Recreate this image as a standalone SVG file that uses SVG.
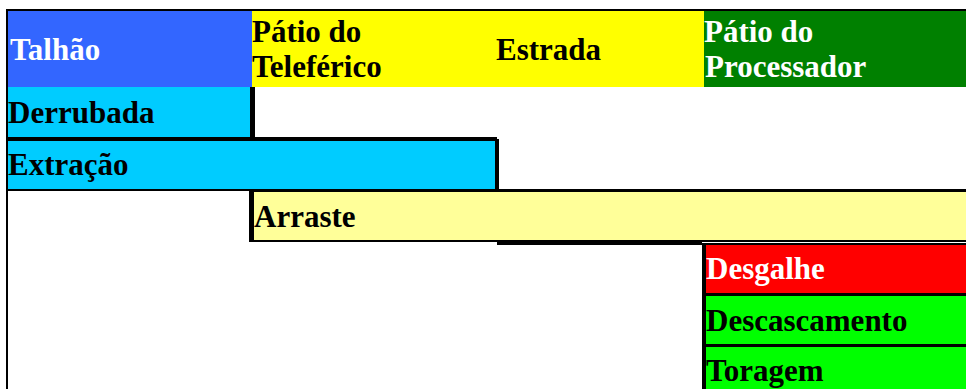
<svg xmlns="http://www.w3.org/2000/svg" width="966" height="389" viewBox="0 0 966 389">
<style>
text{font-family:"Liberation Serif","Times New Roman",serif;font-weight:bold;font-size:31px;fill:#000}
.w{fill:#fff}
.k{fill:#000}
</style>
<rect x="0" y="0" width="966" height="389" fill="#fff"/>
<g id="frame">
<rect class="k" x="6" y="9" width="960" height="2"/>
<rect class="k" x="6" y="9" width="2" height="380"/>
</g>
<g id="header-talhao">
<rect x="8" y="11" width="244" height="76" fill="#3366FF"/>
<text class="w" x="10" y="60">Talhão</text>
</g>
<g id="header-teleferico">
<rect x="252" y="11" width="244" height="76" fill="#FFFF00"/>
<text x="252" y="42">Pátio do</text>
<text x="252" y="77">Teleférico</text>
</g>
<g id="header-estrada">
<rect x="496" y="11" width="208" height="76" fill="#FFFF00"/>
<text x="496" y="60">Estrada</text>
</g>
<g id="header-processador">
<rect x="704" y="11" width="262" height="76" fill="#008000"/>
<text class="w" x="704" y="42">Pátio do</text>
<text class="w" x="705" y="77">Processador</text>
</g>
<g id="derrubada">
<rect x="8" y="87" width="242" height="50" fill="#00CCFF"/>
<rect class="k" x="250" y="87" width="5" height="54"/>
<rect class="k" x="8" y="137" width="247" height="4"/>
<text x="8" y="123">Derrubada</text>
</g>
<g id="extracao">
<rect class="k" x="8" y="137" width="489" height="4"/>
<rect x="8" y="141" width="487" height="48" fill="#00CCFF"/>
<rect class="k" x="495" y="139" width="4" height="52"/>
<rect class="k" x="8" y="189" width="491" height="2"/>
<text x="8" y="175">Extração</text>
</g>
<g id="arraste">
<rect class="k" x="249" y="189" width="717" height="3"/>
<rect class="k" x="249" y="189" width="5" height="53"/>
<rect x="254" y="192" width="712" height="48" fill="#FFFF99"/>
<rect class="k" x="249" y="240" width="717" height="2"/>
<rect class="k" x="497" y="242" width="205" height="3"/>
<text x="254" y="227">Arraste</text>
</g>
<g id="desgalhe">
<rect class="k" x="702" y="243" width="264" height="2"/>
<rect class="k" x="702" y="243" width="4" height="146"/>
<rect x="706" y="245" width="260" height="48" fill="#FF0000"/>
<rect class="k" x="706" y="293" width="260" height="3"/>
<text class="w" x="706" y="279">Desgalhe</text>
</g>
<g id="descascamento">
<rect x="706" y="296" width="260" height="48" fill="#00FF00"/>
<rect class="k" x="706" y="344" width="260" height="3"/>
<text x="706" y="331">Descascamento</text>
</g>
<g id="toragem">
<rect x="706" y="347" width="260" height="42" fill="#00FF00"/>
<text x="706" y="381">Toragem</text>
</g>
</svg>
